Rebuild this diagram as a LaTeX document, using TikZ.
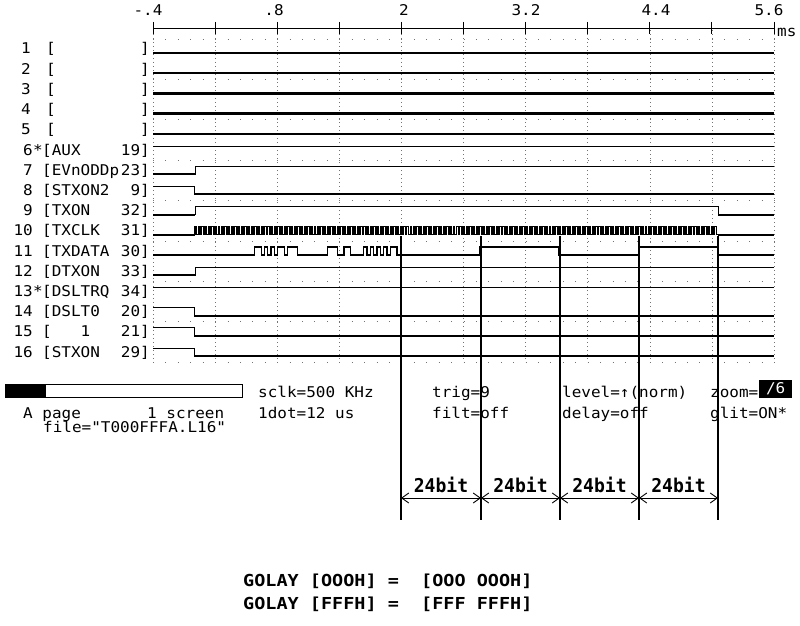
\documentclass[tikz,border=0pt]{standalone}
\usepackage{fontspec}
\usetikzlibrary{arrows.meta}
\newfontfamily\scrfont[FakeStretch=1.08]{DejaVu Sans Mono}
\newfontfamily\bitfont[FakeStretch=0.95]{DejaVu Sans Mono}
\newfontfamily\golayfont[FakeStretch=1.12]{DejaVu Sans Mono}
% row levels (pixels, y grows downwards)
\newcommand\rowlo[1]{53+20.2*(#1-1)}
\newcommand\rowhi[1]{45+20.2*(#1-1)}
\tikzset{
  scrtext/.style  = {font=\scrfont\fontsize{14.8}{16}\selectfont, inner sep=0pt},
  axisnum/.style  = {scrtext, anchor=base},
  chlabel/.style  = {scrtext, anchor=base west},
  chnum/.style    = {scrtext, anchor=base east},
  gridv/.style    = {black!55, line width=0.6pt, dash pattern=on 1pt off 3pt},
  gridh/.style    = {black!55, line width=0.8pt, dash pattern=on 1pt off 11.42pt},
  axisline/.style = {line width=0.9pt},
  fixed/.style    = {line width=2.4pt},
  wave/.style     = {line width=1pt, line join=miter},
  clk/.style      = {line width=1.3pt, line join=miter},
  lowlvl/.style   = {line width=2pt},
  marker/.style   = {line width=1.1pt},
  bitarrow/.style = {{Straight Barb[length=7pt,width=10pt]}-{Straight Barb[length=7pt,width=10pt]},
                     line width=0.9pt},
  bitlabel/.style = {font=\bitfont\bfseries\fontsize{19}{20}\selectfont, inner sep=0pt},
  golay/.style    = {font=\golayfont\bfseries\fontsize{16.5}{20}\selectfont, inner sep=0pt,
                     anchor=base west},
}
\begin{document}
\begin{tikzpicture}[x=1pt,y=-1pt]
  \useasboundingbox (0,0) rectangle (800,626);

  % dotted grid
  \foreach \j in {0,...,10}
    \draw[gridv] ({153+62.1*\j},30) -- ({153+62.1*\j},362);
  \foreach \k in {0,...,8}
    \draw[gridh] (153,{39+40.4*\k}) -- (775,{39+40.4*\k});

  % time axis
  \draw[axisline] (153,28) -- (774,28);
  \foreach \j in {0,...,10}
    \draw[axisline] ({153+62.1*\j},22) -- ({153+62.1*\j},34);
  \foreach \tv/\x [count=\c] in {-.4/148, .8/274, 2/404, 3.2/526, 4.4/656, 5.6/769}
    \node[axisnum] (tick\c) at (\x,16) {\tv};
  \node[chlabel] (ms) at (777,37) {ms};

  % channels 1-5
  \foreach \r in {1,...,5} {
    \draw[fixed] (153,{\rowlo{\r}}) -- (774,{\rowlo{\r}});
    \node[chnum] (num\r) at (31,{\rowlo{\r}+1}) {\r};
    \node[chlabel] (name\r) at (46,{\rowlo{\r}+1}) {[};
    \node[chnum] (pin\r) at (150,{\rowlo{\r}+1}) {]};
  }

  % channels 6-16
  \foreach \r/\st/\nm/\pn in {6/*/AUX/19, 7/{}/EVnODDp/23, 8/{}/STXON2/9, 9/{}/TXON/32,
      10/{}/TXCLK/31, 11/{}/TXDATA/30, 12/{}/DTXON/33, 13/*/DSLTRQ/34, 14/{}/DSLT0/20,
      15/{}/{\ \ \ 1}/21, 16/{}/STXON/29} {
    \node[chnum] (num\r) at (33,{\rowlo{\r}+1}) {\r};
    \node[chlabel] (star\r) at (33,{\rowlo{\r}+1}) {\st};
    \node[chlabel] (name\r) at (42,{\rowlo{\r}+1}) {[\nm};
    \node[chnum] (pin\r) at (150,{\rowlo{\r}+1}) {\pn]};
  }

  % AUX, DSLTRQ
  \draw[wave] (153,{\rowhi{6}}) -- (774,{\rowhi{6}});
  \draw[wave] (153,{\rowhi{13}}) -- (774,{\rowhi{13}});
  % EVnODDp, DTXON
  \foreach \r in {7,12} {
    \draw[wave] (153,{\rowlo{\r}}) -- (195,{\rowlo{\r}}) -- (195,{\rowhi{\r}}) -- (774,{\rowhi{\r}});
    \draw[lowlvl] (153,{\rowlo{\r}}) -- (195,{\rowlo{\r}});
  }
  % STXON2, DSLT0, 1, STXON
  \foreach \r in {8,14,15,16} {
    \draw[wave] (153,{\rowhi{\r}}) -- (194,{\rowhi{\r}}) -- (194,{\rowlo{\r}}) -- (774,{\rowlo{\r}});
    \draw[lowlvl] (194,{\rowlo{\r}}) -- (774,{\rowlo{\r}});
  }
  % TXON
  \draw[wave] (153,{\rowlo{9}}) -- (195,{\rowlo{9}}) -- (195,{\rowhi{9}}) -- (718,{\rowhi{9}})
    -- (718,{\rowlo{9}}) -- (774,{\rowlo{9}});
  \draw[lowlvl] (153,{\rowlo{9}}) -- (195,{\rowlo{9}});
  \draw[lowlvl] (718,{\rowlo{9}}) -- (774,{\rowlo{9}});
  % TXCLK
  \draw[clk] (153,{\rowlo{10}}) -- (195,{\rowlo{10}})
    \foreach \k in {0,...,157} { -- ++(0,-8) -- ++(1.655,0) -- ++(0,8) -- ++(1.655,0) }
    -- (774,{\rowlo{10}});
  \draw[lowlvl] (153,{\rowlo{10}}) -- (195,{\rowlo{10}});
  \draw[lowlvl] (718,{\rowlo{10}}) -- (774,{\rowlo{10}});
  % TXDATA
  \draw[clk] (153,{\rowlo{11}})
    \foreach \a/\b in {18/20, 21/22, 23/24, 25/27, 28/31, 40/43, 45/47, 51/52, 53/54,
                       55/56, 57/58, 59/61, 86/110, 134/158} {
      -- ({195+3.31*\a},{\rowlo{11}}) -- ({195+3.31*\a},{\rowhi{11}})
      -- ({195+3.31*\b},{\rowhi{11}}) -- ({195+3.31*\b},{\rowlo{11}}) }
    -- (774,{\rowlo{11}});
  \foreach \a/\b in {153/255, 401/480, 559/639, 718/774}
    \draw[lowlvl] (\a,{\rowlo{11}}) -- (\b,{\rowlo{11}});

  % status lines
  \fill (5,384) rectangle (46,397);
  \draw[line width=0.8pt] (5,384) rectangle (242,397);
  \node[chlabel] (page) at (23,418) {A page};
  \node[chlabel] (screen) at (147,418) {1 screen};
  \node[chlabel] (file) at (43,432) {file="T000FFFA.L16"};
  \node[chlabel] (sclk) at (258,397) {sclk=500 KHz};
  \node[chlabel] (dot) at (258,418) {1dot=12 us};
  \node[chlabel] (trig) at (432,397) {trig=9};
  \node[chlabel] (filt) at (432,418) {filt=off};
  \node[chlabel] (level) at (562,397) {level=↑(norm)};
  \node[chlabel] (delay) at (562,418) {delay=off};
  \node[chlabel] (zoom) at (710,397) {zoom=};
  \node[scrtext, fill=black, text=white, minimum width=33pt, minimum height=18pt,
        anchor=west] (zoomval) at (759,389) {/6};
  \node[chlabel] (glit) at (710,418) {glit=ON*};

  % 24 bit markers
  \foreach \i/\x in {0/401, 1/481, 2/560, 3/639, 4/718} {
    \coordinate (mt\i) at (\x,236);
    \coordinate (mb\i) at (\x,520);
    \coordinate (ma\i) at (\x,498);
    \draw[marker] (mt\i) -- (mb\i);
  }
  \foreach \a/\b in {0/1, 1/2, 2/3, 3/4}
    \draw[bitarrow] (ma\a) -- node[bitlabel, above=5pt] (bits\a) {24bit} (ma\b);

  % code words
  \node[golay] (golay0) at (243,586) {GOLAY [OOOH] =\ \ [OOO OOOH]};
  \node[golay] (golayF) at (243,609) {GOLAY [FFFH] =\ \ [FFF FFFH]};
\end{tikzpicture}
\end{document}
